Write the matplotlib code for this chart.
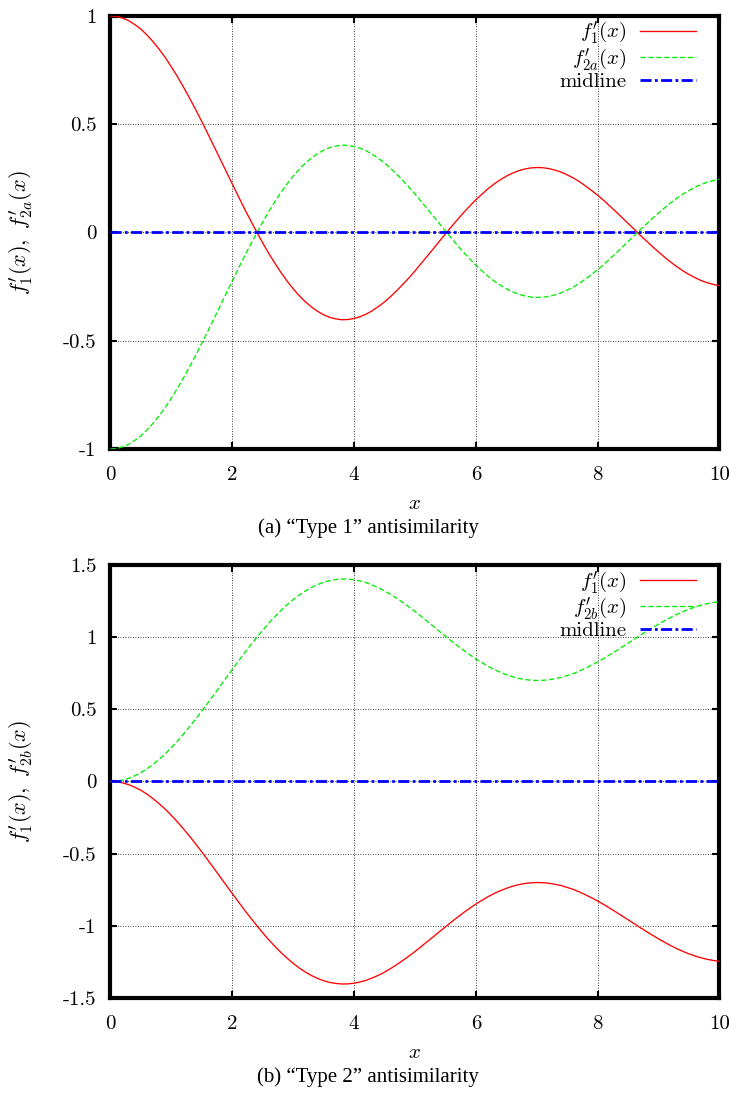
import numpy as np
import matplotlib
matplotlib.use("Agg")
import matplotlib.pyplot as plt

plt.rcParams['font.family'] = ['cmr10', 'DejaVu Serif']
plt.rcParams['mathtext.fontset'] = 'cm'
plt.rcParams['axes.unicode_minus'] = False

# ---- data ----
x = np.linspace(0, 10, 101)

f1_a = [1.000, 0.998, 0.990, 0.978, 0.960, 0.939, 0.912, 0.881, 0.846, 0.808,
        0.765, 0.720, 0.671, 0.620, 0.567, 0.512, 0.455, 0.398, 0.340, 0.282,
        0.224, 0.167, 0.110, 0.056, 0.003, -0.048, -0.097, -0.142, -0.185, -0.224,
        -0.260, -0.292, -0.320, -0.344, -0.364, -0.380, -0.392, -0.399, -0.403, -0.402,
        -0.397, -0.389, -0.377, -0.361, -0.342, -0.321, -0.296, -0.269, -0.240, -0.210,
        -0.178, -0.144, -0.110, -0.076, -0.041, -0.007, 0.027, 0.060, 0.092, 0.122,
        0.151, 0.177, 0.202, 0.224, 0.243, 0.260, 0.274, 0.285, 0.293, 0.298,
        0.300, 0.299, 0.295, 0.288, 0.279, 0.266, 0.252, 0.235, 0.215, 0.194,
        0.172, 0.148, 0.122, 0.096, 0.069, 0.042, 0.015, -0.013, -0.039, -0.065,
        -0.090, -0.114, -0.137, -0.158, -0.177, -0.194, -0.209, -0.222, -0.232, -0.240,
        -0.246]
f2a = [-1.000, -0.998, -0.990, -0.978, -0.960, -0.939, -0.912, -0.881, -0.846, -0.808,
       -0.765, -0.720, -0.671, -0.620, -0.567, -0.512, -0.455, -0.398, -0.340, -0.282,
       -0.224, -0.167, -0.110, -0.056, -0.003, 0.048, 0.097, 0.142, 0.185, 0.224,
       0.260, 0.292, 0.320, 0.344, 0.364, 0.380, 0.392, 0.399, 0.403, 0.402,
       0.397, 0.389, 0.377, 0.361, 0.342, 0.321, 0.296, 0.269, 0.240, 0.210,
       0.178, 0.144, 0.110, 0.076, 0.041, 0.007, -0.027, -0.060, -0.092, -0.122,
       -0.151, -0.177, -0.202, -0.224, -0.243, -0.260, -0.274, -0.285, -0.293, -0.298,
       -0.300, -0.299, -0.295, -0.288, -0.279, -0.266, -0.252, -0.235, -0.215, -0.194,
       -0.172, -0.148, -0.122, -0.096, -0.069, -0.042, -0.015, 0.013, 0.039, 0.065,
       0.090, 0.114, 0.137, 0.158, 0.177, 0.194, 0.209, 0.222, 0.232, 0.240,
       0.246]
f1_b = [0.000, -0.002, -0.010, -0.022, -0.040, -0.061, -0.088, -0.119, -0.154, -0.192,
        -0.235, -0.280, -0.329, -0.380, -0.433, -0.488, -0.545, -0.602, -0.660, -0.718,
        -0.776, -0.833, -0.890, -0.944, -0.997, -1.048, -1.097, -1.142, -1.185, -1.224,
        -1.260, -1.292, -1.320, -1.344, -1.364, -1.380, -1.392, -1.399, -1.403, -1.402,
        -1.397, -1.389, -1.377, -1.361, -1.342, -1.321, -1.296, -1.269, -1.240, -1.210,
        -1.178, -1.144, -1.110, -1.076, -1.041, -1.007, -0.973, -0.940, -0.908, -0.878,
        -0.849, -0.823, -0.798, -0.776, -0.757, -0.740, -0.726, -0.715, -0.707, -0.702,
        -0.700, -0.701, -0.705, -0.712, -0.721, -0.734, -0.748, -0.765, -0.785, -0.806,
        -0.828, -0.852, -0.878, -0.904, -0.931, -0.958, -0.985, -1.013, -1.039, -1.065,
        -1.090, -1.114, -1.137, -1.158, -1.177, -1.194, -1.209, -1.222, -1.232, -1.240,
        -1.246]
f2b = [0.000, 0.002, 0.010, 0.022, 0.040, 0.061, 0.088, 0.119, 0.154, 0.192,
       0.235, 0.280, 0.329, 0.380, 0.433, 0.488, 0.545, 0.602, 0.660, 0.718,
       0.776, 0.833, 0.890, 0.944, 0.997, 1.048, 1.097, 1.142, 1.185, 1.224,
       1.260, 1.292, 1.320, 1.344, 1.364, 1.380, 1.392, 1.399, 1.403, 1.402,
       1.397, 1.389, 1.377, 1.361, 1.342, 1.321, 1.296, 1.269, 1.240, 1.210,
       1.178, 1.144, 1.110, 1.076, 1.041, 1.007, 0.973, 0.940, 0.908, 0.878,
       0.849, 0.823, 0.798, 0.776, 0.757, 0.740, 0.726, 0.715, 0.707, 0.702,
       0.700, 0.701, 0.705, 0.712, 0.721, 0.734, 0.748, 0.765, 0.785, 0.806,
       0.828, 0.852, 0.878, 0.904, 0.931, 0.958, 0.985, 1.013, 1.039, 1.065,
       1.090, 1.114, 1.137, 1.158, 1.177, 1.194, 1.209, 1.222, 1.232, 1.240,
       1.246]
midline = [0.0] * len(x)

xticks = [0, 2, 4, 6, 8, 10]
xtick_labels = ['0', '2', '4', '6', '8', '10']
yticks_a = [-1, -0.5, 0, 0.5, 1]
ytick_labels_a = ['-1', '-0.5', '0', '0.5', '1']
yticks_b = [-1.5, -1, -0.5, 0, 0.5, 1, 1.5]
ytick_labels_b = ['-1.5', '-1', '-0.5', '0', '0.5', '1', '1.5']

panels = [
    dict(y1=f1_a, y2=f2a, lab2=r"$f^{\prime}_{2a}(x)$",
         ylabel=r"$f^{\prime}_{1}(x),\ f^{\prime}_{2a}(x)$",
         yticks=yticks_a, ylabels=ytick_labels_a, ylim=(-1, 1),
         caption="(a) \u201cType 1\u201d antisimilarity", bottom=0.5892),
    dict(y1=f1_b, y2=f2b, lab2=r"$f^{\prime}_{2b}(x)$",
         ylabel=r"$f^{\prime}_{1}(x),\ f^{\prime}_{2b}(x)$",
         yticks=yticks_b, ylabels=ytick_labels_b, ylim=(-1.5, 1.5),
         caption="(b) \u201cType 2\u201d antisimilarity", bottom=0.0869),
]

fig = plt.figure(figsize=(7.36, 10.93), dpi=100)
W, H = 736, 1093
for p in panels:
    ax = fig.add_axes([0.1501, p['bottom'], 0.8274, 0.3962])
    ax.plot(x, p['y1'], color='#ff0000', lw=0.95, label=r"$f^{\prime}_{1}(x)$", zorder=3)
    ax.plot(x, p['y2'], color='#00ee00', lw=0.95, ls=(0, (4, 2)), label=p['lab2'], zorder=3)
    ax.plot(x, midline, color='#0000ff', lw=2.0, ls=(0, (4, 1.2, 1, 1.2)),
            label='midline', zorder=4)
    ax.set_xlim(0, 10)
    ax.set_ylim(*p['ylim'])
    ax.set_xticks(xticks)
    ax.set_xticklabels(xtick_labels)
    ax.set_yticks(p['yticks'])
    ax.set_yticklabels(p['ylabels'])
    ax.tick_params(direction='in', length=5, width=1.5, top=True, right=True,
                   labelsize=15, color='black')
    ax.tick_params(axis='x', pad=12)
    ax.tick_params(axis='y', pad=10)
    ax.grid(True, color='black', lw=0.6, ls=(0, (1, 2)))
    for s in ax.spines.values():
        s.set_linewidth(3)
    ax.set_xlabel(r"$x$", fontsize=15)
    ax.xaxis.set_label_coords(0.5, -0.106)
    ax.set_ylabel(p['ylabel'], fontsize=16)
    ax.yaxis.set_label_coords(-0.124, 0.5)
    leg = ax.legend(loc='upper right', bbox_to_anchor=(0.962, 0.99),
                    frameon=False, markerfirst=False,
                    fontsize=15, handlelength=2.7, handletextpad=0.65,
                    labelspacing=0.0, borderaxespad=0, borderpad=0)
    # caption
    axbottom_px = (1 - p['bottom']) * H
    fig.text(0.5, 1 - (axbottom_px + 79) / H, p['caption'],
             family='Liberation Serif', fontsize=15, ha='center', va='center')

fig.savefig("out.png", dpi=100)
